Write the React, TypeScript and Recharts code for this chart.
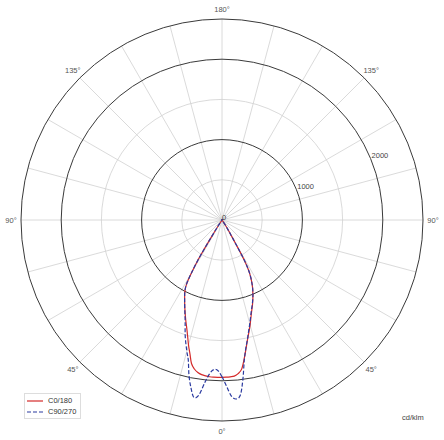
import React from 'react';
import {
  RadarChart,
  Radar,
  PolarGrid,
  PolarAngleAxis,
  PolarRadiusAxis,
  Legend,
} from 'recharts';

// gamma angles (deg from nadir), read per half-plane
const gamma = [0, 1.5, 3, 4.5, 6, 7.5, 9, 10.5, 12, 13.5, 15, 17.5, 20, 22.5, 25, 27.5, 29, 30, 31, 31.5, 32, 33, 35, 90, 180];

// cd/klm
const c0 = [1957, 1956, 1953, 1948, 1922, 1871, 1755, 1634, 1524, 1434, 1350, 1216, 1111, 1005, 890, 740, 576, 340, 210, 170, 130, 85, 0, 0, 0];
const c180 = [1957, 1957, 1957, 1956, 1950, 1940, 1920, 1885, 1825, 1710, 1609, 1445, 1320, 1205, 1100, 1000, 905, 760, 580, 400, 240, 100, 0, 0, 0];
const c90 = [1950, 2061, 2190, 2233, 2189, 1994, 1770, 1625, 1520, 1420, 1335, 1205, 1105, 1005, 890, 740, 576, 340, 210, 170, 130, 85, 0, 0, 0];
const c270 = [1950, 1875, 1862, 1912, 2030, 2195, 2235, 2120, 1975, 1795, 1690, 1520, 1340, 1210, 1100, 1000, 905, 760, 580, 400, 240, 100, 0, 0, 0];

const angleTicks = [0, 15, 30, 45, 60, 75, 90, 105, 120, 135, 150, 165, 180, 195, 210, 225, 240, 255, 270, 285, 300, 315, 330, 345];
const majorTicks = [0, 1000, 2000];
const minorTicks = [500, 1500];

// both radius axes share the same 0..2500 domain
const series = [
  { key: 'c0180', name: 'C0/180', color: '#d42a2a', dash: undefined, axis: 'major' },
  { key: 'c90270', name: 'C90/270', color: '#2b3aa0', dash: '4 2', axis: 'minor' },
];

// right half: angle = gamma, left half: angle = 360 - gamma
const data = [
  ...gamma.map((g, i) => ({ angle: g, c0180: c0[i], c90270: c90[i] })),
  ...gamma
    .map((g, i) => ({ angle: 360 - g, c0180: c180[i], c90270: c270[i] }))
    .filter((d) => d.angle < 360 && d.angle > 180)
    .reverse(),
];

const FONT = '"Liberation Sans", Arial, sans-serif';

// closed catmull-rom through the points recharts computed
function smoothPath(points: { x: number; y: number }[]) {
  const pts = points.filter((p) => Number.isFinite(p.x) && Number.isFinite(p.y));
  const n = pts.length;
  if (!n) return '';
  let d = `M${pts[0].x},${pts[0].y}`;
  for (let i = 0; i < n; i++) {
    const p0 = pts[(i - 1 + n) % n];
    const p1 = pts[i];
    const p2 = pts[(i + 1) % n];
    const p3 = pts[(i + 2) % n];
    const c1x = p1.x + (p2.x - p0.x) / 6;
    const c1y = p1.y + (p2.y - p0.y) / 6;
    const c2x = p2.x - (p3.x - p1.x) / 6;
    const c2y = p2.y - (p3.y - p1.y) / 6;
    d += ` C${c1x},${c1y} ${c2x},${c2y} ${p2.x},${p2.y}`;
  }
  return d + 'Z';
}

function SmoothShape(props: any) {
  return (
    <path
      d={smoothPath(props.points)}
      fill="none"
      stroke={props.stroke}
      strokeWidth={props.strokeWidth}
      strokeDasharray={props.strokeDasharray}
    />
  );
}

function AngleTick(props: any) {
  const { x, y, payload } = props;
  const v = payload.value;
  if (v % 45 !== 0) return <g />;
  const label = v <= 180 ? v : 360 - v;
  return (
    <text x={x} y={y} textAnchor="middle" dominantBaseline="central" fontSize={7.5} fill="#555" fontFamily={FONT}>
      {label}°
    </text>
  );
}

function RadiusTick(props: any) {
  const { x, y, payload } = props;
  const v = payload.value;
  return (
    <text
      x={v === 0 ? x + 2 : x + 1}
      y={y - 3}
      textAnchor={v === 0 ? 'middle' : 'start'}
      dominantBaseline="central"
      fontSize={7.5}
      fill="#444"
      fontFamily={FONT}
    >
      {v}
    </text>
  );
}

const EmptyTick = () => <g />;

function LegendBox() {
  return (
    <div
      style={{
        border: '1px solid #ddd',
        background: '#fff',
        padding: '1px 4px 1px 2px',
        fontSize: 7.5,
        fontFamily: FONT,
        color: '#333',
        display: 'inline-block',
      }}
    >
      {series.map((s) => (
        <div key={s.key} style={{ display: 'flex', alignItems: 'center', height: 11 }}>
          <svg width={16} height={6}>
            <line x1={0} y1={3} x2={16} y2={3} stroke={s.color} strokeWidth={1.2} strokeDasharray={s.dash} />
          </svg>
          <span style={{ marginLeft: 5 }}>{s.name}</span>
        </div>
      ))}
    </div>
  );
}

export default function App() {
  return (
    <div style={{ position: 'absolute', left: 0, top: 0, width: 444, height: 440, background: '#fff' }}>
      <RadarChart
        width={444}
        height={440}
        data={data}
        cx={222}
        cy={220}
        innerRadius={0}
        outerRadius={201}
        startAngle={-90}
        endAngle={270}
        margin={{ top: 0, right: 0, bottom: 0, left: 0 }}
      >
        <PolarGrid gridType="circle" radiusAxisId="minor" stroke="#d0d0d0" strokeWidth={0.8} />
        <PolarGrid gridType="circle" radiusAxisId="major" stroke="#3a3a3a" strokeWidth={1} radialLines={false} />
        <PolarAngleAxis
          dataKey="angle"
          type="number"
          domain={[0, 360]}
          ticks={angleTicks}
          tickSize={10}
          tickLine={false}
          axisLineType="circle"
          axisLine={{ stroke: '#3a3a3a', strokeWidth: 1 }}
          tick={<AngleTick />}
        />
        <PolarRadiusAxis
          radiusAxisId="minor"
          type="number"
          domain={[0, 2500]}
          ticks={minorTicks}
          angle={22.5}
          axisLine={false}
          tickLine={false}
          tick={<EmptyTick />}
        />
        <PolarRadiusAxis
          radiusAxisId="major"
          type="number"
          domain={[0, 2500]}
          ticks={majorTicks}
          angle={22.5}
          axisLine={false}
          tickLine={false}
          tick={<RadiusTick />}
        />
        {series.map((s) => (
          <Radar
            key={s.key}
            name={s.name}
            dataKey={s.key}
            radiusAxisId={s.axis}
            stroke={s.color}
            strokeWidth={1.2}
            strokeDasharray={s.dash}
            fill="none"
            dot={false}
            shape={<SmoothShape />}
            isAnimationActive={false}
          />
        ))}
        <Legend content={<LegendBox />} wrapperStyle={{ left: 24, top: 393, width: 'auto', height: 'auto' }} />
      </RadarChart>
      <div style={{ position: 'absolute', left: 402, top: 413, fontSize: 7.5, fontFamily: FONT, color: '#444' }}>
        cd/klm
      </div>
    </div>
  );
}
